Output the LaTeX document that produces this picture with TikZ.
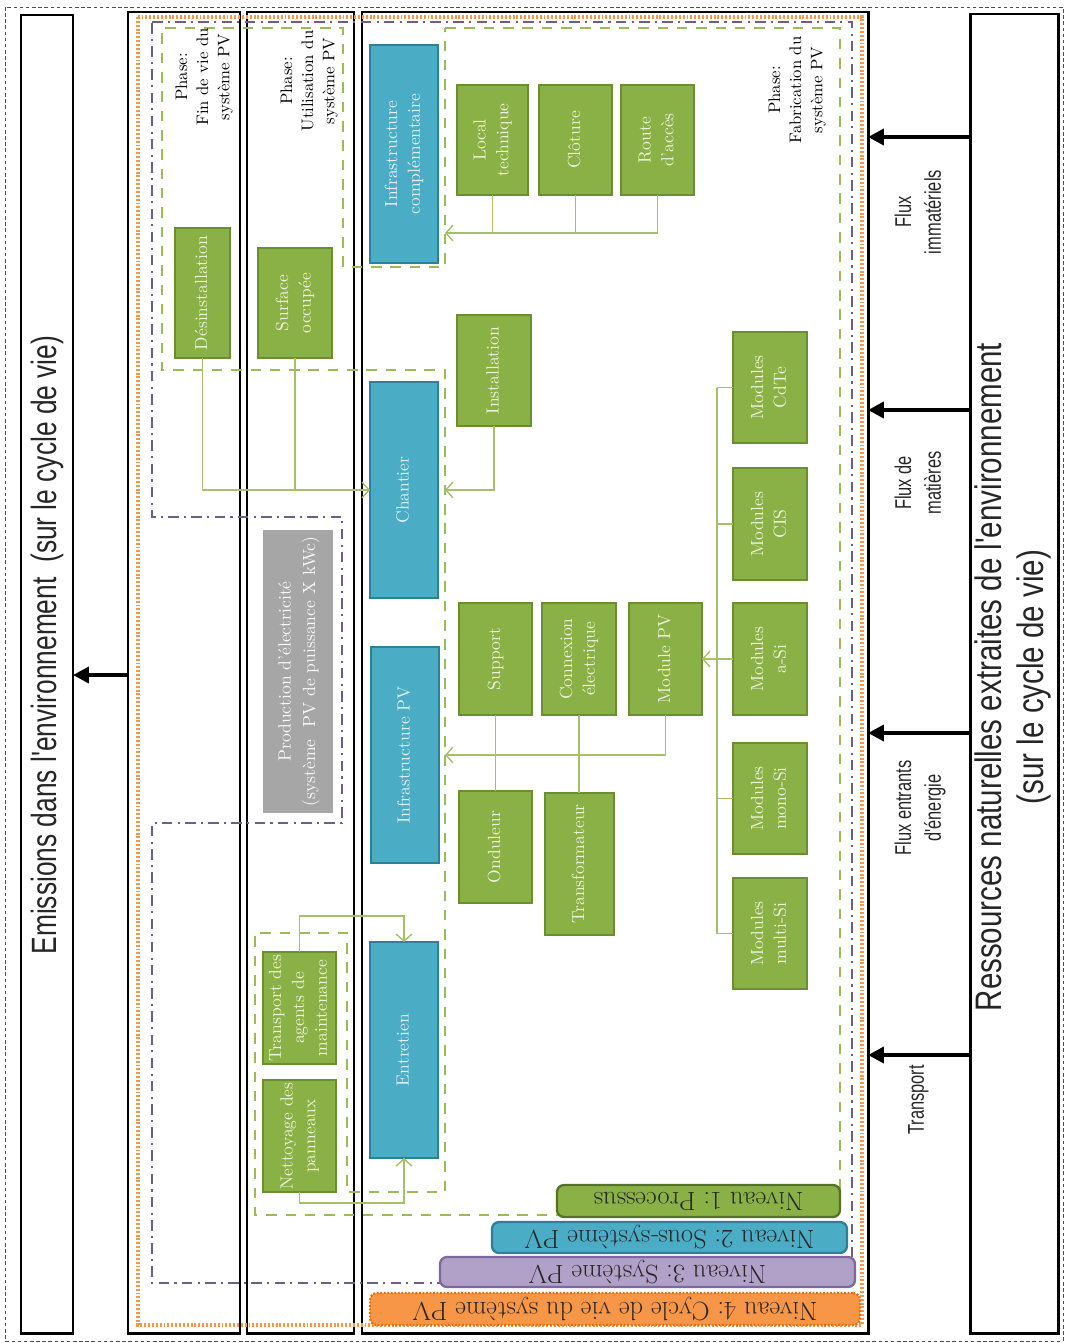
\documentclass[tikz,border=0pt]{standalone}
\usepackage{fontspec}
\usepackage{graphicx}
\usetikzlibrary{arrows.meta}
\newfontfamily\condsans[FakeStretch=0.72]{Liberation Sans}
\newfontfamily\emissans[FakeStretch=0.75]{Liberation Sans}
\newfontfamily\ressans[FakeStretch=0.8]{Liberation Sans}

\definecolor{aqua}{HTML}{4BACC6}
\definecolor{aquadark}{HTML}{2F7F97}
\definecolor{aquatext}{HTML}{E3F1F6}
\definecolor{leaf}{HTML}{8AB145}
\definecolor{leafdark}{HTML}{6A8E30}
\definecolor{leaftext}{HTML}{EEF3DC}
\definecolor{lav}{HTML}{B1A0C7}
\definecolor{lavdark}{HTML}{7E68A0}
\definecolor{orng}{HTML}{F79646}
\definecolor{orngdark}{HTML}{E46C0A}
\definecolor{purpline}{HTML}{6A5E8C}
\definecolor{greenline}{HTML}{9BBB59}
\definecolor{connline}{HTML}{A4C16A}
\definecolor{prodgray}{HTML}{A6A6A6}
\definecolor{ink}{HTML}{262626}

% text set bottom-to-top inside a box
\newcommand\vtxt[1]{\rotatebox{90}{\begin{tabular}{@{}c@{}}#1\end{tabular}}}
% box given by its corners in pixel units
\newcommand\pbox[7]{\node[#1, minimum width={(#5-#3)*0.02cm}, minimum height={(#6-#4)*0.02cm}] (#2) at ({(#3+#5)/2},{(#4+#6)/2}) {\vtxt{#7}};}
% level tab, text turned upside down
\newcommand\ptab[7]{\node[#1, minimum width={(#5-#3)*0.02cm}, minimum height={(#6-#4)*0.02cm}] (#2) at ({(#3+#5)/2},{(#4+#6)/2}) {\rotatebox{180}{#7}};}

\begin{document}
\frenchspacing
\begin{tikzpicture}[x=0.02cm, y=-0.02cm,
  blk/.style={draw=black, line width=1.7pt, inner sep=0pt, outer sep=0pt},
  gbox/.style={draw=leafdark, fill=leaf, line width=1.3pt, inner sep=0pt, outer sep=0pt,
    text=leaftext, font=\fontsize{10}{13}\selectfont},
  bbox/.style={draw=aquadark, fill=aqua, line width=1.3pt, inner sep=0pt, outer sep=0pt,
    text=aquatext, font=\fontsize{10}{13}\selectfont},
  graybox/.style={fill=prodgray, inner sep=0pt, outer sep=0pt,
    text=white!92!prodgray, font=\fontsize{10}{14}\selectfont},
  tabbase/.style={line width=1.3pt, rounded corners=4pt, inner sep=0pt, outer sep=0pt,
    text=ink, font=\fontsize{15}{17}\selectfont},
  tab1/.style={tabbase, draw=leafdark!80!black, fill=leaf},
  tab2/.style={tabbase, draw=aquadark, fill=aqua},
  tab3/.style={tabbase, draw=lavdark, fill=lav},
  tab4/.style={tabbase, draw=orngdark, fill=orng, dash pattern=on 1pt off 1pt},
  conn/.style={draw=connline, line width=0.8pt},
  conntip/.style={-{Straight Barb[length=4pt,width=9pt]}},
  bigarrow/.style={line width=2.2pt, -{Triangle[length=9pt,width=9pt]}},
  phase/.style={font=\fontsize{9.5}{12}\selectfont, align=center, inner sep=0pt},
  fluxlabel/.style={font=\condsans\fontsize{13}{17}\selectfont, align=center, text=ink, inner sep=0pt},
  emistext/.style={font=\emissans\fontsize{20}{24}\selectfont, align=center, text=ink, inner sep=0pt},
  restext/.style={font=\ressans\fontsize{21}{24}\selectfont, align=center, text=ink, inner sep=0pt},
  pagedash/.style={draw=black!70, line width=0.5pt, dash pattern=on 2pt off 1.5pt},
  lifecycle/.style={draw=orng, line width=2pt, dash pattern=on 1.1pt off 1.1pt},
  system/.style={draw=purpline, line width=1.1pt, dash pattern=on 6pt off 3pt on 1.2pt off 3pt},
  phaseline/.style={draw=greenline, line width=1.2pt, dash pattern=on 6pt off 5pt}
]
\useasboundingbox (0,0) rectangle (1066,1343);
\draw[pagedash] (5,7) rectangle (1063,1341);

% outer frames
\pbox{blk}{emis}{21}{15}{73}{1333}{}
\pbox{blk}{res}{970}{14}{1058}{1333}{}
\pbox{blk}{boxa}{128}{12}{240}{1333}{}
\pbox{blk}{boxb}{247}{12}{354}{1333}{}
\pbox{blk}{boxc}{362}{12}{868}{1333}{}

% level outlines
\draw[lifecycle] (138,17) rectangle (862,1325);
\draw[system] (152,22) -- (852,22) -- (852,1283) -- (152,1283) -- (152,823)
  -- (342,823) -- (342,517) -- (152,517) -- cycle;
\draw[phaseline] (445,28) -- (840,28) -- (840,1215) -- (255,1215) -- (255,933)
  -- (347,933) -- (347,1192) -- (445,1192) -- (445,370) -- (162,370) -- (162,28)
  -- (343,28) -- (343,267) -- (445,267) -- cycle;

% level 2: sub-systems
\pbox{bbox}{infc}{370}{45}{438}{263}{Infrastructure\\complémentaire}
\pbox{bbox}{chan}{370}{382}{438}{598}{Chantier}
\pbox{bbox}{infpv}{371}{647}{439}{863}{Infrastructure PV}
\pbox{bbox}{entr}{370}{942}{438}{1158}{Entretien}

% level 1: processes
\pbox{gbox}{desi}{175}{228}{230}{358}{Désinstallation}
\pbox{gbox}{surf}{258}{248}{332}{358}{Surface\\occupée}
\pbox{gbox}{loct}{457}{85}{528}{195}{Local\\technique}
\pbox{gbox}{clot}{539}{85}{612}{195}{Clôture}
\pbox{gbox}{route}{621}{85}{694}{195}{Route\\d'accès}
\pbox{gbox}{inst}{457}{315}{531}{426}{Installation}
\pbox{gbox}{supp}{459}{603}{532}{715}{Support}
\pbox{gbox}{conx}{542}{603}{616}{715}{Connexion\\électrique}
\pbox{gbox}{modpv}{629}{603}{702}{715}{Module PV}
\pbox{gbox}{cdte}{733}{332}{807}{443}{Modules\\CdTe}
\pbox{gbox}{cis}{733}{468}{807}{580}{Modules\\CIS}
\pbox{gbox}{asi}{733}{603}{807}{715}{Modules\\a-Si}
\pbox{gbox}{mono}{733}{743}{807}{854}{Modules\\mono-Si}
\pbox{gbox}{multi}{733}{878}{807}{989}{Modules\\multi-Si}
\pbox{gbox}{ond}{459}{791}{532}{903}{Onduleur}
\pbox{gbox}{trafo}{545}{793}{614}{935}{Transformateur}
\pbox{gbox}{transp}{263}{952}{336}{1064}{Transport des\\agents de\\maintenance}
\pbox{gbox}{nett}{263}{1080}{336}{1192}{Nettoyage des\\panneaux}
\pbox{graybox}{prod}{263}{530}{333}{813}{Production d'électricité\\(système~~PV de puissance X kWc)}

% connectors
\coordinate (infcin) at (445,233);
\draw[conn, conntip] (route.south) |- (infcin);
\draw[conn] (loct.south) -- (loct.south |- infcin);
\draw[conn] (clot.south) -- (clot.south |- infcin);

\coordinate (chanin) at (445,490);
\draw[conn, conntip] (inst.south) |- (chanin);
\draw[conn, conntip] (desi.south) |- (chan.west);
\draw[conn] (surf.south) -- (surf.south |- chan.west);

\coordinate (infpvin) at (445,755);
\draw[conn, conntip] (modpv.south) |- (infpvin);
\draw[conn] (supp.south) -- (ond.north);
\draw[conn] (conx.south) -- (conx.south |- trafo.north);

\coordinate (trunk) at (717,0);
\draw[conn] (trunk |- cdte.west) -- (trunk |- multi.west);
\foreach \m in {cdte,cis,asi,mono,multi}
  \draw[conn] (trunk |- \m.west) -- (\m.west);
\draw[conn, conntip] (trunk |- modpv.east) -- (modpv.east);

\coordinate (topbend) at (0,916);
\coordinate (botbend) at (0,1203);
\draw[conn, conntip] (transp.north) -- (transp.north |- topbend) -| (entr.north);
\draw[conn, conntip] (nett.south) -- (nett.south |- botbend) -| (entr.south);

% level tabs
\ptab{tab1}{niv1}{557}{1185}{840}{1217}{Niveau 1: Processus}
\ptab{tab2}{niv2}{492}{1222}{847}{1253}{Niveau 2: Sous-système PV}
\ptab{tab3}{niv3}{440}{1257}{855}{1287}{Niveau 3: Système PV}
\ptab{tab4}{niv4}{370}{1293}{860}{1325}{Niveau 4: Cycle de vie du système PV}

% phase titles
\node[phase] (ph-fin) at (204,77) {\vtxt{Phase:\\Fin de vie du\\système PV}};
\node[phase] (ph-uti) at (309,81) {\vtxt{Phase:\\Utilisation du\\système PV}};
\node[phase] (ph-fab) at (797,90) {\vtxt{Phase:\\Fabrication du\\système PV}};

% flows between environment and life cycle
\foreach \y/\n in {137/f1,410/f2,733/f3,1055/f4}{
  \coordinate (\n) at (0,\y);
  \draw[bigarrow] (res.west |- \n) -- (boxc.east |- \n);
}
\coordinate (fem) at (0,675);
\draw[bigarrow] (boxa.west |- fem) -- (emis.east |- fem);

\node[fluxlabel] (fl1) at (920,212) {\vtxt{Flux\\immatériels}};
\node[fluxlabel] (fl2) at (920,483) {\vtxt{Flux de\\matières}};
\node[fluxlabel] (fl3) at (920,808) {\vtxt{Flux entrants\\d'énergie}};
\node[fluxlabel] (fl4) at (918,1100) {\vtxt{Transport}};

\node[emistext] (emistxt) at (47,645) {\rotatebox{90}{Emissions dans l'environnement~~(sur le cycle de vie)}};
\node[restext] (restxt) at (1014,677) {\vtxt{Ressources naturelles extraites de l'environnement\\(sur le cycle de vie)}};
\end{tikzpicture}
\end{document}
